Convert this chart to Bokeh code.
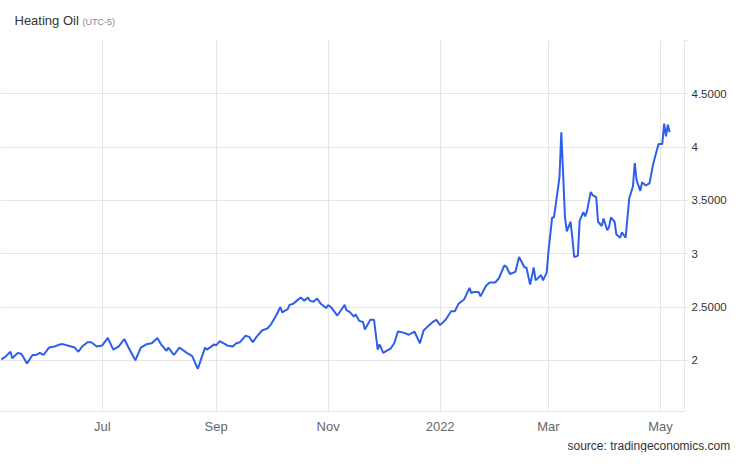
import pandas as pd
from bokeh.plotting import figure
from bokeh.layouts import column
from bokeh.models import Range1d, FixedTicker, Label, Title
from bokeh.embed import file_html
from bokeh.resources import INLINE

# ---- data ----
dates = [
    "2021-05-07", "2021-05-09", "2021-05-12", "2021-05-13", "2021-05-16", "2021-05-18", "2021-05-21", "2021-05-24", "2021-05-26", "2021-05-28", "2021-05-30",
    "2021-06-02", "2021-06-05", "2021-06-08", "2021-06-10", "2021-06-14", "2021-06-16", "2021-06-18", "2021-06-20", "2021-06-23", "2021-06-25", "2021-06-28",
    "2021-07-01", "2021-07-04", "2021-07-07", "2021-07-10", "2021-07-13", "2021-07-15", "2021-07-19", "2021-07-22", "2021-07-25", "2021-07-28", "2021-07-31",
    "2021-08-02", "2021-08-05", "2021-08-06", "2021-08-09", "2021-08-12", "2021-08-16", "2021-08-19", "2021-08-22", "2021-08-26", "2021-08-27", "2021-08-31",
    "2021-09-01", "2021-09-03", "2021-09-07", "2021-09-10", "2021-09-12", "2021-09-14", "2021-09-17", "2021-09-19", "2021-09-21", "2021-09-23", "2021-09-26", "2021-09-29",
    "2021-10-01", "2021-10-04", "2021-10-06", "2021-10-07", "2021-10-10", "2021-10-11", "2021-10-13", "2021-10-15", "2021-10-17", "2021-10-19", "2021-10-21", "2021-10-22", "2021-10-24", "2021-10-26", "2021-10-28", "2021-10-31",
    "2021-11-01", "2021-11-03", "2021-11-06", "2021-11-08", "2021-11-10", "2021-11-11", "2021-11-13", "2021-11-15", "2021-11-16", "2021-11-18", "2021-11-20", "2021-11-21", "2021-11-24", "2021-11-26", "2021-11-28", "2021-11-29",
    "2021-12-01", "2021-12-03", "2021-12-05", "2021-12-07", "2021-12-09", "2021-12-12", "2021-12-15", "2021-12-18", "2021-12-21", "2021-12-23", "2021-12-26", "2021-12-28", "2021-12-30",
    "2022-01-01", "2022-01-04", "2022-01-07", "2022-01-09", "2022-01-11", "2022-01-14", "2022-01-17", "2022-01-18", "2022-01-19", "2022-01-22", "2022-01-23", "2022-01-26", "2022-01-28", "2022-01-31",
    "2022-02-02", "2022-02-05", "2022-02-06", "2022-02-08", "2022-02-11", "2022-02-13", "2022-02-16", "2022-02-17", "2022-02-19", "2022-02-21", "2022-02-22", "2022-02-25", "2022-02-26", "2022-02-28",
    "2022-03-01", "2022-03-03", "2022-03-04", "2022-03-06", "2022-03-07", "2022-03-08", "2022-03-10", "2022-03-11", "2022-03-13", "2022-03-14", "2022-03-15", "2022-03-17", "2022-03-18", "2022-03-20", "2022-03-21", "2022-03-22", "2022-03-24", "2022-03-25", "2022-03-27", "2022-03-28", "2022-03-30", "2022-03-31",
    "2022-04-02", "2022-04-03", "2022-04-04", "2022-04-06", "2022-04-07", "2022-04-09", "2022-04-10", "2022-04-12", "2022-04-14", "2022-04-16", "2022-04-17", "2022-04-18", "2022-04-20", "2022-04-21", "2022-04-23", "2022-04-25", "2022-04-27", "2022-04-29", "2022-04-30",
    "2022-05-02", "2022-05-03", "2022-05-04", "2022-05-05", "2022-05-06",
]
prices = [
    2.01, 2.03, 2.08, 2.02, 2.07, 2.06, 1.97, 2.05, 2.05, 2.07, 2.05,
    2.12, 2.13, 2.15, 2.15, 2.13, 2.12, 2.08, 2.13, 2.17, 2.17, 2.13,
    2.14, 2.21, 2.10, 2.13, 2.20, 2.13, 2.00, 2.12, 2.15, 2.16, 2.21,
    2.15, 2.09, 2.12, 2.05, 2.12, 2.07, 2.04, 1.92, 2.12, 2.10, 2.15,
    2.14, 2.18, 2.14, 2.13, 2.16, 2.17, 2.23, 2.22, 2.17, 2.22, 2.28, 2.30,
    2.34, 2.43, 2.50, 2.45, 2.48, 2.52, 2.53, 2.56, 2.59, 2.56, 2.59, 2.56, 2.55, 2.58, 2.53, 2.49,
    2.52, 2.49, 2.42, 2.47, 2.52, 2.47, 2.45, 2.41, 2.43, 2.37, 2.36, 2.29, 2.38, 2.38, 2.10, 2.15,
    2.07, 2.09, 2.11, 2.16, 2.27, 2.26, 2.24, 2.27, 2.16, 2.28, 2.33, 2.36, 2.38,
    2.33, 2.38, 2.46, 2.46, 2.53, 2.57, 2.68, 2.63, 2.64, 2.64, 2.60, 2.70, 2.73, 2.73,
    2.77, 2.89, 2.88, 2.81, 2.83, 2.97, 2.87, 2.87, 2.71, 2.87, 2.75, 2.80, 2.75, 2.82,
    3.02, 3.34, 3.34, 3.59, 3.72, 4.14, 3.34, 3.21, 3.30, 3.15, 2.97, 2.98, 3.31, 3.39, 3.35, 3.40, 3.58, 3.55, 3.53, 3.30, 3.26, 3.33,
    3.22, 3.25, 3.34, 3.30, 3.18, 3.15, 3.20, 3.15, 3.52, 3.63, 3.85, 3.69, 3.59, 3.67, 3.64, 3.66, 3.84, 3.97, 4.03,
    4.03, 4.22, 4.10, 4.21, 4.14,
]
x_tick_dates = ["2021-07-01", "2021-09-01", "2021-11-01", "2022-01-01", "2022-03-01", "2022-05-01"]
x_tick_labels = ["Jul", "Sep", "Nov", "2022", "Mar", "May"]
y_ticks = [2, 2.5, 3, 3.5, 4, 4.5, 5]
y_tick_labels = ["2", "2.5000", "3", "3.5000", "4", "4.5000", ""]

title_text = "Heating Oil"
subtitle_text = "(UTC-5)"
source_text = "source: tradingeconomics.com"

W = 730
grid_color = "#e6e6e6"
font = "Liberation Sans"

# ---- header (title + subtitle) ----
head = figure(width=W, height=40, x_range=Range1d(0, W), y_range=Range1d(0, 40),
              output_backend="svg", toolbar_location=None,
              min_border_left=0, min_border_right=0, min_border_top=0, min_border_bottom=0)
head.axis.visible = False
head.grid.visible = False
head.outline_line_color = None
head.add_layout(Label(x=14, y=20, x_units="screen", y_units="screen",
                      text=title_text, text_font=font, text_font_size="13px",
                      text_color="#333333", text_baseline="middle"))
head.add_layout(Label(x=82, y=19, x_units="screen", y_units="screen",
                      text=subtitle_text, text_font=font, text_font_size="9px",
                      text_color="#888888", text_baseline="middle"))

# ---- main chart ----
x_dt = pd.to_datetime(dates)
p = figure(
    width=W, height=412,
    x_axis_type="datetime", y_axis_location="right",
    x_range=Range1d(pd.Timestamp("2021-05-06 13:40"), pd.Timestamp("2022-05-14 02:00")),
    y_range=Range1d(1.52, 5.0),
    output_backend="svg", toolbar_location=None,
    min_border_left=0, min_border_right=46, min_border_top=0, min_border_bottom=41,
)
p.outline_line_color = None

p.line(x_dt, prices, line_color="#2d5fea", line_width=2)

x_ms = [pd.Timestamp(d).value / 1e6 for d in x_tick_dates]
p.xaxis.ticker = FixedTicker(ticks=x_ms)
p.xaxis.major_label_overrides = {float(t): lab for t, lab in zip(x_ms, x_tick_labels)}
p.xaxis.axis_line_color = grid_color
p.xaxis.major_tick_line_color = None
p.xaxis.minor_tick_line_color = None
p.xaxis.major_label_text_font = font
p.xaxis.major_label_text_font_size = "13px"
p.xaxis.major_label_text_color = "#666666"
p.xaxis.major_label_standoff = 1
p.xgrid.ticker = FixedTicker(ticks=x_ms)
p.xgrid.grid_line_color = grid_color

p.yaxis.ticker = FixedTicker(ticks=y_ticks)
p.yaxis.major_label_overrides = {float(t): lab for t, lab in zip(y_ticks, y_tick_labels)}
p.yaxis.axis_line_color = grid_color
p.yaxis.major_tick_line_color = grid_color
p.yaxis.major_tick_out = 3
p.yaxis.major_tick_in = 0
p.yaxis.minor_tick_line_color = None
p.yaxis.major_label_text_font = font
p.yaxis.major_label_text_font_size = "11.5px"
p.yaxis.major_label_text_color = "#333333"
p.yaxis.major_label_standoff = 4
p.ygrid.ticker = FixedTicker(ticks=y_ticks)
p.ygrid.grid_line_color = grid_color

# source note as a title under the x axis
p.add_layout(Title(text=source_text, align="left", offset=567, standoff=0,
                   text_font=font, text_font_size="12px", text_font_style="normal",
                   text_color="#333333"), "below")

layout = column(head, p, spacing=0)
open("out.html", "w").write(file_html(layout, INLINE))
